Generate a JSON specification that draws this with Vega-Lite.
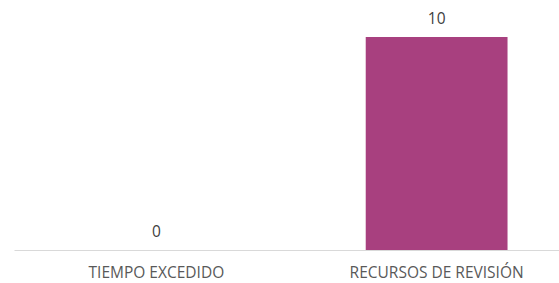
{
  "$schema": "https://vega.github.io/schema/vega-lite/v6.json",
  "autosize": "none",
  "padding": {"left": 14, "top": 37, "right": 0, "bottom": 33},
  "width": 565,
  "height": 213,
  "background": "white",
  "config": {"view": {"stroke": null}, "font": "Open Sans"},
  "data": {"values": [
    {"categoria": "TIEMPO EXCEDIDO", "valor": 0},
    {"categoria": "RECURSOS DE REVISIÓN", "valor": 10}
  ]},
  "encoding": {
    "x": {"field": "categoria", "type": "nominal", "sort": null,
      "scale": {"paddingInner": 0.494, "paddingOuter": 0.255},
      "axis": {"title": null, "labelAngle": 0, "ticks": false, "domainColor": "#d9d9d9", "domainWidth": 1,
        "labelFont": "Open Sans", "labelFontSize": 15.5, "labelColor": "#595959", "labelBaseline": "alphabetic", "labelPadding": 27}},
    "y": {"field": "valor", "type": "quantitative", "scale": {"domain": [0, 10], "nice": false}, "axis": null}
  },
  "layer": [
    {"mark": {"type": "bar", "color": "#A8407F"}},
    {"mark": {"type": "text", "baseline": "alphabetic", "dy": -13, "font": "Open Sans", "fontSize": 15.5, "color": "#404040"},
     "encoding": {"text": {"field": "valor", "type": "quantitative"}}}
  ]
}
